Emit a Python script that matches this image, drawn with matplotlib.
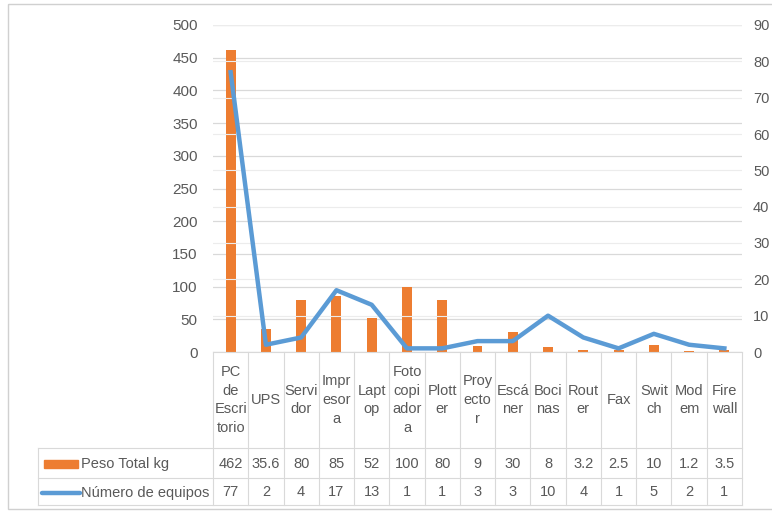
import matplotlib
matplotlib.use("Agg")
import matplotlib.pyplot as plt
from matplotlib.patches import Rectangle
from matplotlib.lines import Line2D

plt.rcParams['font.family'] = ['Liberation Sans', 'DejaVu Sans']

categories = ["PC\nde\nEscri\ntorio", "UPS", "Servi\ndor", "Impr\nesor\na", "Lapt\nop",
              "Foto\ncopi\nador\na", "Plott\ner", "Proy\necto\nr", "Escá\nner", "Boci\nnas",
              "Rout\ner", "Fax", "Swit\nch", "Mod\nem", "Fire\nwall"]
peso_total = [462, 35.6, 80, 85, 52, 100, 80, 9, 30, 8, 3.2, 2.5, 10, 1.2, 3.5]
num_equipos = [77, 2, 4, 17, 13, 1, 1, 3, 3, 10, 4, 1, 5, 2, 1]
peso_labels = ["462", "35.6", "80", "85", "52", "100", "80", "9", "30", "8", "3.2", "2.5", "10", "1.2", "3.5"]
series_names = ["Peso Total kg", "Número de equipos"]

ORANGE = "#ED7D31"
BLUE = "#5B9BD5"
GRID = "#D9D9D9"
TXT = "#595959"

W, H = 772, 513
fig = plt.figure(figsize=(W / 100, H / 100), dpi=100)

# overlay axes in pixel coordinates for the frame and data table
ov = fig.add_axes([0, 0, 1, 1], zorder=0)
ov.set_xlim(0, W)
ov.set_ylim(H, 0)
ov.axis("off")

x0, x1, y_top, y_bot = 213, 742, 25, 352
ax = fig.add_axes([x0 / W, 1 - y_bot / H, (x1 - x0) / W, (y_bot - y_top) / H], zorder=2)
ax.patch.set_alpha(0)
n = len(categories)
xs = list(range(n))
ax.bar(xs, peso_total, width=0.28, color=ORANGE, zorder=3)
ax.set_xlim(-0.5, n - 0.5)
ax.set_ylim(0, 500)
ax.set_yticks(range(0, 501, 50))
ax.yaxis.grid(True, color=GRID, linewidth=0.9)
ax.set_axisbelow(True)
ax.set_xticks([])
for s in ax.spines.values():
    s.set_visible(False)
ax.tick_params(axis="y", length=0, labelsize=11, labelcolor=TXT, pad=11)

ax2 = ax.twinx()
ax2.plot(xs, num_equipos, color=BLUE, linewidth=3.2, solid_joinstyle="round", zorder=4)
ax2.set_ylim(0, 90)
ax2.set_yticks(range(0, 91, 10))
ax2.yaxis.grid(True, color="#ECECEC", linewidth=0.8)
ax2.set_xlim(-0.5, n - 0.5)
for s in ax2.spines.values():
    s.set_visible(False)
ax2.tick_params(axis="y", length=0, labelsize=10.5, labelcolor=TXT, pad=8)

# outer chart frame
ov.add_patch(Rectangle((8, 4), 800, 505, fill=False, edgecolor="#D0D0D0", linewidth=1))

# data table under the plot
colw = (x1 - x0) / n
row_cat_bot = 448
row1_bot = 478
row2_bot = 505
tab_left = 38
lw = 0.8
ov.add_line(Line2D([x0, x1], [y_bot, y_bot], color=GRID, lw=lw))
for yy in (row_cat_bot, row1_bot, row2_bot):
    ov.add_line(Line2D([tab_left, x1], [yy, yy], color=GRID, lw=lw))
ov.add_line(Line2D([tab_left, tab_left], [row_cat_bot, row2_bot], color=GRID, lw=lw))
for i in range(n + 1):
    xx = x0 + i * colw
    ov.add_line(Line2D([xx, xx], [y_bot, row2_bot], color=GRID, lw=lw))

fs = 10.5
for i, cat in enumerate(categories):
    cx = x0 + (i + 0.5) * colw
    ov.text(cx, (y_bot + row_cat_bot) / 2, cat, ha="center", va="center",
            fontsize=fs, color=TXT, linespacing=1.45)
    ov.text(cx, (row_cat_bot + row1_bot) / 2 + 1, peso_labels[i], ha="center", va="center",
            fontsize=fs, color=TXT)
    ov.text(cx, (row1_bot + row2_bot) / 2 + 1, str(num_equipos[i]), ha="center", va="center",
            fontsize=fs, color=TXT)

# legend keys in the table rows
ym1 = (row_cat_bot + row1_bot) / 2 + 1
ym2 = (row1_bot + row2_bot) / 2 + 1
ov.add_patch(Rectangle((44, ym1 - 4), 34, 8, color=ORANGE))
ov.text(81, ym1, series_names[0], ha="left", va="center", fontsize=fs, color=TXT)
ov.add_line(Line2D([42, 80], [ym2, ym2], color=BLUE, lw=3.2, solid_capstyle="round"))
ov.text(81, ym2, series_names[1], ha="left", va="center", fontsize=fs, color=TXT)

fig.savefig("out.png", dpi=100)
